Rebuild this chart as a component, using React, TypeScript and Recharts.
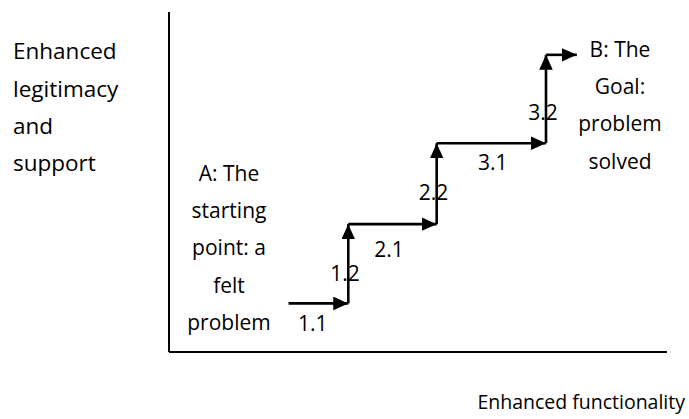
import { ComposedChart, Line, Scatter, XAxis, YAxis } from 'recharts';

// corners of the staircase, in chart units (0-100 on both axes)
const stepX = [24, 36, 53.75, 75.7, 81.9];
const stepY = [14.3, 37.6, 61.4, 87.4];

// step numbers and where they sit
const stepLabels = ['1.1', '1.2', '2.1', '2.2', '3.1', '3.2'];
const labelX = [28.86, 35.34, 44.18, 53.1, 65.0, 75.1];
const labelY = [6.26, 20.9, 27.85, 44.85, 53.5, 68.2];

const yTitle = ['Enhanced', 'legitimacy', 'and', 'support'];
const xTitle = 'Enhanced functionality';
const startLines = ['A: The', 'starting', 'point: a', 'felt', 'problem'];
const goalLines = ['B: The', 'Goal:', 'problem', 'solved'];

const FONT = '"Open Sans", sans-serif';
const FS = 21;
const LINE_H = 37.3;

const segments: { x: number; y: number }[][] = [];
for (let i = 0; i < stepY.length; i++) {
  segments.push([
    { x: stepX[i], y: stepY[i] },
    { x: stepX[i + 1], y: stepY[i] },
  ]);
  if (i < stepY.length - 1) {
    segments.push([
      { x: stepX[i + 1], y: stepY[i] },
      { x: stepX[i + 1], y: stepY[i + 1] },
    ]);
  }
}

const labelData = stepLabels.map((label, i) => ({ x: labelX[i], y: labelY[i], label }));

function StepLabel(props: any) {
  const { cx, cy, payload } = props;
  return (
    <text x={cx} y={cy} textAnchor="middle" fontFamily={FONT} fontSize={FS} fill="#000">
      {payload.label}
    </text>
  );
}

export default function App() {
  return (
    <div style={{ position: 'absolute', left: 0, top: 0, width: 689, height: 419, background: '#fff' }}>
      <svg width={0} height={0} style={{ position: 'absolute' }}>
        <defs>
          <marker
            id="arrowHead"
            markerUnits="userSpaceOnUse"
            markerWidth={16}
            markerHeight={14}
            refX={15}
            refY={6.75}
            orient="auto"
          >
            <path d="M0,0 L15,6.75 L0,13.5 z" fill="#000" />
          </marker>
        </defs>
      </svg>
      <ComposedChart
        width={689}
        height={419}
        margin={{ top: 12, right: 22, bottom: 66, left: 168 }}
      >
        <XAxis
          type="number"
          dataKey="x"
          domain={[0, 100]}
          height={1}
          tick={false}
          tickLine={false}
          axisLine={{ stroke: '#000', strokeWidth: 2 }}
        />
        <YAxis
          type="number"
          dataKey="y"
          domain={[0, 100]}
          width={1}
          tick={false}
          tickLine={false}
          axisLine={{ stroke: '#000', strokeWidth: 2 }}
        />
        {segments.map((seg, i) => (
          <Line
            key={i}
            data={seg}
            dataKey="y"
            stroke="#000"
            strokeWidth={2.6}
            dot={false}
            activeDot={false}
            markerEnd="url(#arrowHead)"
            isAnimationActive={false}
          />
        ))}
        <Scatter data={labelData} dataKey="y" shape={StepLabel} isAnimationActive={false} />
      </ComposedChart>
      <svg width={689} height={419} style={{ position: 'absolute', left: 0, top: 0, pointerEvents: 'none' }}>
        <g fontFamily={FONT} fill="#000">
          {yTitle.map((t, i) => (
            <text key={t} x={13} y={59.3 + i * LINE_H} fontSize={22.5}>
              {t}
            </text>
          ))}
          {startLines.map((t, i) => (
            <text key={t} x={229} y={180.7 + i * LINE_H} textAnchor="middle" fontSize={FS}>
              {t}
            </text>
          ))}
          {goalLines.map((t, i) => (
            <text key={t} x={620} y={56.7 + i * LINE_H} textAnchor="middle" fontSize={FS}>
              {t}
            </text>
          ))}
          <text x={685} y={409} textAnchor="end" fontSize={19.5}>
            {xTitle}
          </text>
        </g>
      </svg>
    </div>
  );
}
